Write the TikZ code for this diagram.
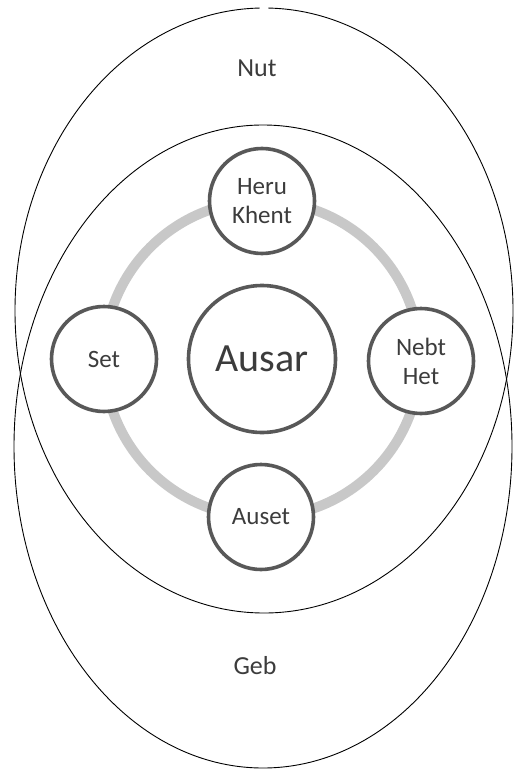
\documentclass[tikz,border=0pt]{standalone}
\usepackage{fontspec}
\setmainfont{Carlito}
\definecolor{edgegray}{RGB}{88,88,88}
\definecolor{ringgray}{RGB}{200,200,200}
\definecolor{txtgray}{RGB}{60,60,60}
\begin{document}
\begin{tikzpicture}[x=1pt,y=-1pt,
  shell/.style={draw=black, line width=0.9pt},
  ringline/.style={draw=ringgray, line width=10pt},
  deity/.style={circle, draw=edgegray, line width=3.6pt, fill=white,
    minimum size=105pt, inner sep=0pt, text=txtgray, align=center,
    font=\fontsize{25}{29}\selectfont},
  chief/.style={deity, minimum size=147pt, font=\fontsize{40}{46}\selectfont},
  realm/.style={text=txtgray, font=\fontsize{26}{30}\selectfont, inner sep=0pt}]
\useasboundingbox[fill=white] (0,0) rectangle (515,770);
% outer shells
\draw[shell] (264,310.5) ++(-89:249 and 302.5)
  arc[start angle=-89, end angle=269, x radius=249, y radius=302.5];
\draw[shell] (263,446.5) ellipse[x radius=249, y radius=321.5];
% ring
\coordinate (c) at (262,359);
\draw[ringline] (c) circle[radius=158];
% deities
\node[chief] (ausar) at (c) {Ausar};
\node[deity] (heru) at (262,201) {Heru\\Khent};
\node[deity] (set) at (104,359) {Set};
\node[deity] (nebt) at (421,361) {Nebt\\Het};
\node[deity] (auset) at (261,517) {Auset};
% realms
\node[realm] (nut) at (257,68) {Nut};
\node[realm] (geb) at (255,666) {Geb};
\end{tikzpicture}
\end{document}
